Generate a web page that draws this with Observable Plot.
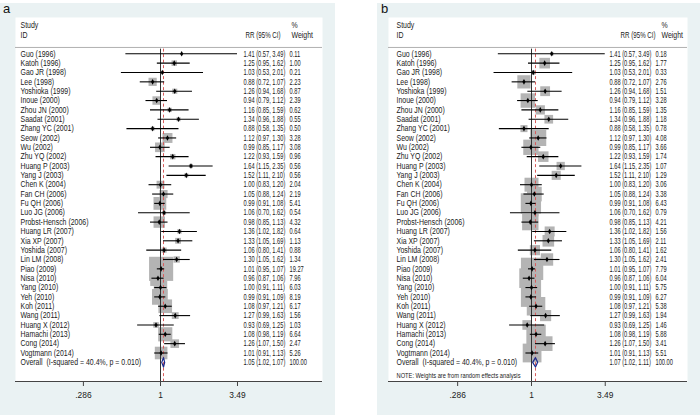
<!DOCTYPE html>
<html><head><meta charset="utf-8">
<script src="https://cdn.jsdelivr.net/npm/d3@7"></script>
<script src="https://cdn.jsdelivr.net/npm/@observablehq/plot@0.6"></script>
<style>
body{margin:0;background:#fff;}
#wrap{position:relative;width:700px;height:417px;overflow:hidden;background:#fff;font-family:"Liberation Sans",Arial,sans-serif;}
.bg{position:absolute;background:#eaf2f3;}
.lab{position:absolute;font-size:13px;color:#111;}
.pan{position:absolute;}
</style></head>
<body><div id="wrap"></div>
<script>
const studies = ["Guo (1996)","Katoh (1996)","Gao JR (1998)","Lee (1998)","Yoshioka (1999)","Inoue (2000)","Zhou JN (2000)","Saadat (2001)","Zhang YC (2001)","Seow (2002)","Wu (2002)","Zhu YQ (2002)","Huang P (2003)","Yang J (2003)","Chen K (2004)","Fan CH (2006)","Fu QH (2006)","Luo JG (2006)","Probst-Hensch (2006)","Huang LR (2007)","Xia XP (2007)","Yoshida (2007)","Lin LM (2008)","Piao (2009)","Nisa (2010)","Yang (2010)","Yeh (2010)","Koh (2011)","Wang (2011)","Huang X (2012)","Hamachi (2013)","Cong (2014)","Vogtmann (2014)"];
const rr = [1.41,1.25,1.03,0.88,1.26,0.94,1.16,1.34,0.88,1.12,0.99,1.22,1.64,1.52,1.00,1.05,0.99,1.06,0.98,1.36,1.33,1.06,1.30,1.01,0.96,1.00,0.99,1.08,1.27,0.93,1.08,1.26,1.01];
const lo = [0.57,0.95,0.53,0.72,0.94,0.79,0.85,0.96,0.58,0.97,0.85,0.93,1.15,1.11,0.83,0.88,0.91,0.70,0.85,1.02,1.05,0.80,1.05,0.95,0.87,0.91,0.91,0.97,0.99,0.69,0.98,1.07,0.91];
const hi = [3.49,1.62,2.01,1.07,1.68,1.12,1.59,1.88,1.35,1.30,1.17,1.59,2.35,2.10,1.20,1.24,1.08,1.62,1.13,1.82,1.69,1.41,1.62,1.07,1.06,1.11,1.09,1.21,1.63,1.25,1.19,1.50,1.13];
const weightA = [0.11,1.00,0.21,2.23,0.87,2.39,0.62,0.55,0.50,3.28,3.08,0.96,0.56,0.56,2.04,2.19,5.41,0.54,4.32,0.64,1.13,0.88,1.34,19.27,7.96,6.03,8.19,6.17,1.56,1.03,6.64,2.47,5.26];
const weightB = [0.18,1.77,0.33,2.76,1.51,3.28,1.35,1.18,0.78,4.08,3.66,1.74,1.07,1.29,3.06,3.38,6.43,0.79,4.21,1.56,2.11,1.62,2.41,7.79,6.04,5.75,6.27,5.38,1.94,1.46,5.88,3.41,5.51];
const overallA = [1.05,1.02,1.07];
const overallB = [1.07,1.02,1.11];
const overallLabel = "Overall\u00a0 (I-squared = 40.4%, p = 0.010)";
const overallWeight = "100.00";
const noteB = "NOTE: Weights are from random effects analysis";
const tickValues = [0.286,1,3.49];
const tickLabels = [".286","1","3.49"];
const headerLeft = ["Study","ID"];
const headerCI = "RR (95% CI)";
const headerW = ["%","Weight"];
const panelLetters = ["a","b"];

const f2 = v => v.toFixed(2);
function makePanel(weights, overall, cfg){
  const rows = studies.map((s,i)=>({i, study:s, rr:rr[i], lo:lo[i], hi:hi[i], w:weights[i],
    ci:`${f2(rr[i])} (${f2(lo[i])}, ${f2(hi[i])})`, wt:f2(weights[i])}));
  const oi = studies.length;
  const ov = {i:oi, rr:overall[0], lo:overall[1], hi:overall[2]};
  const diamond = [
    {x:ov.lo,y:oi},{x:ov.rr,y:oi-0.5},{x:ov.hi,y:oi},{x:ov.rr,y:oi+0.5},{x:ov.lo,y:oi}];
  const W = cfg.width, H = cfg.frameH;
  const pxPerRow = cfg.rowH;
  const y0 = -cfg.row0/pxPerRow, y1 = (H-cfg.row0)/pxPerRow;
  const xl = Math.exp(-cfg.x1px/cfg.pxLn), xh = Math.exp((W-cfg.x1px)/cfg.pxLn);
  const txt = {fill:"#1a1a1a", fontSize:cfg.fs, frameAnchor:"left", textAnchor:"start"};
  const marks = [
    Plot.frame({fill:"white", stroke:"none"}),
    Plot.ruleY([-0.68], {stroke:"#b0b0b0", strokeWidth:1}),
    Plot.text(headerLeft.map((t,k)=>({t,y:-3+k})), {...txt, y:"y", text:"t", dx:cfg.dxLabel}),
    Plot.text([headerCI], {...txt, y:-2, text:d=>d, dx:cfg.dxCIh}),
    Plot.text(headerW.map((t,k)=>({t,y:-3+k})), {...txt, y:"y", text:"t", dx:cfg.dxWh}),
    Plot.dot(rows, {x:"rr", y:"i", r:"w", symbol:"square", fill:"#b4b4b4", stroke:"none"}),
    Plot.ruleX([1], {y1:-0.5, y2:y1, stroke:"#333", strokeWidth:1}),
    Plot.ruleX([ov.rr], {y1:-0.5, y2:y1, stroke:"#d85c5c", strokeWidth:1, strokeDasharray:"3,2.5"}),
    Plot.ruleY(rows, {y:"i", x1:"lo", x2:"hi", stroke:"#000", strokeWidth:1.1}),
    Plot.dot(rows, {x:"rr", y:"i", r:1.7, symbol:"diamond", fill:"#000"}),
    Plot.line(diamond, {x:"x", y:"y", stroke:"#1b2a8c", strokeWidth:1.2}),
    Plot.text(rows, {...txt, y:"i", text:"study", dx:cfg.dxLabel}),
    Plot.text(rows, {...txt, y:"i", text:"ci", dx:cfg.dxCI}),
    Plot.text(rows, {...txt, y:"i", text:"wt", dx:cfg.dxW}),
    Plot.text([overallLabel], {...txt, y:oi, text:d=>d, dx:cfg.dxLabel}),
    Plot.text([`${f2(ov.rr)} (${f2(ov.lo)}, ${f2(ov.hi)})`], {...txt, y:oi, text:d=>d, dx:cfg.dxCI}),
    Plot.text([overallWeight], {...txt, y:oi, text:d=>d, dx:cfg.dxW}),
    Plot.ruleY([y1], {stroke:"#444", strokeWidth:1}),
    Plot.axisX({ticks:tickValues, tickFormat:(d)=>tickLabels[tickValues.indexOf(d)], tickSize:5, tickPadding:6, fontSize:cfg.fs, stroke:"#444", fill:"#1a1a1a"})
  ];
  if (cfg.note) marks.push(Plot.text([cfg.note], {...txt, y:cfg.noteRow, text:d=>d, dx:cfg.dxLabel, fontSize:7}));
  const svg = Plot.plot({
    width: W, height: H + 30,
    marginLeft:0, marginRight:0, marginTop:0, marginBottom:30,
    x:{type:"log", domain:[xl,xh], range:[0,W], axis:null},
    y:{type:"linear", domain:[y0,y1], range:[0,H], axis:null},
    r:{type:"sqrt", domain:[0,100], range:[0,cfg.rmax]},
    style:{fontFamily:'"Liberation Sans", Arial, sans-serif', background:"transparent", overflow:"visible"},
    marks
  });
  svg.classList.add("pan");
  svg.style.left = cfg.left+"px"; svg.style.top = cfg.top+"px";
  return svg;
}
function condense(svg, cfg){
  svg.querySelectorAll("text").forEach(t=>{
    if (t.closest('[aria-label*="axis"]')) return;
    const s = t.textContent;
    const len = t.getComputedTextLength();
    let target;
    if (s.startsWith("NOTE")) target = cfg.noteW;
    else if (s === headerCI) target = len*0.74;
    else if (/^[\d.]+/.test(s)) target = len*cfg.numF;
    else target = len*cfg.txtF;
    t.setAttribute("textLength", target.toFixed(2));
    t.setAttribute("lengthAdjust","spacingAndGlyphs");
  });
}
const wrap = document.getElementById("wrap");
function addDiv(cls, css, text){const d=document.createElement("div");d.className=cls;Object.assign(d.style,css);if(text)d.textContent=text;wrap.appendChild(d);}
addDiv("bg",{left:"0px",top:"3px",width:"335px",height:"412px"});
addDiv("bg",{left:"377px",top:"3px",width:"323px",height:"412px"});
addDiv("lab",{left:"3px",top:"1px"},panelLetters[0]);
addDiv("lab",{left:"381px",top:"1px"},panelLetters[1]);
const cfgA = {left:15, top:17, width:307, frameH:364, rowH:9.35, row0:36.3, x1px:145, pxLn:61.6,
  rmax:31.0, fs:8.4, dxLabel:5, dxCI:228, dxW:274, dxCIh:230, dxWh:276, numF:0.68, txtF:0.83};
const cfgB = {left:388, top:17, width:299, frameH:364, rowH:9.35, row0:36.3, x1px:143, pxLn:59,
  rmax:45.1, fs:8.4, dxLabel:8, dxCI:221, dxW:267, dxCIh:232, dxWh:273, note:noteB, noteRow:34.45, noteW:124, numF:0.68, txtF:0.83};
const svgA = makePanel(weightA, overallA, cfgA); wrap.appendChild(svgA); condense(svgA, cfgA);
const svgB = makePanel(weightB, overallB, cfgB); wrap.appendChild(svgB); condense(svgB, cfgB);
</script></body></html>
